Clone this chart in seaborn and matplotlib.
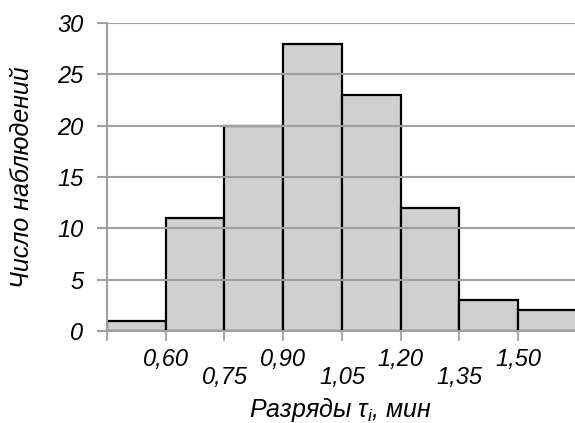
import matplotlib
matplotlib.use("Agg")
import matplotlib.pyplot as plt
import seaborn as sns
import numpy as np

edges = [0.45, 0.60, 0.75, 0.90, 1.05, 1.20, 1.35, 1.50, 1.65]
counts = [1, 11, 20, 28, 23, 12, 3, 2]
upper_ticks = [0.60, 0.90, 1.20, 1.50]
upper_labels = ["0,60", "0,90", "1,20", "1,50"]
lower_ticks = [0.45, 0.75, 1.05, 1.35]
lower_labels = ["", "0,75", "1,05", "1,35"]
yticks = [0, 5, 10, 15, 20, 25, 30]

sns.set_theme(style="white")
plt.rcParams["font.family"] = ["Liberation Sans", "DejaVu Sans"]
plt.rcParams["mathtext.fontset"] = "custom"
plt.rcParams["mathtext.rm"] = "Liberation Sans"
plt.rcParams["mathtext.it"] = "Liberation Sans:italic"
plt.rcParams["text.color"] = "black"
plt.rcParams["axes.labelcolor"] = "black"
plt.rcParams["xtick.labelcolor"] = "black"
plt.rcParams["ytick.labelcolor"] = "black"

centers = [(edges[i] + edges[i + 1]) / 2 for i in range(len(counts))]

fig = plt.figure(figsize=(5.75, 4.23), dpi=100)
ax = fig.add_axes([107 / 575, 1 - 331 / 423, 468 / 575, 308 / 423])

sns.histplot(x=centers, weights=counts, bins=edges, ax=ax, color="#d0d0d0",
             edgecolor="black", linewidth=1.6, alpha=1, zorder=2)

fs = 17
ax.set_xlim(0.45, 1.645)
ax.set_ylim(0, 30)
ax.set_yticks(yticks)
ax.set_yticklabels([str(v) for v in yticks], fontsize=fs, style="italic", color="black")
ax.yaxis.grid(True, color="#a0a0a0", linewidth=1.5, zorder=3)
ax.set_axisbelow(False)

ax.set_xticks(upper_ticks)
ax.set_xticklabels(upper_labels, fontsize=fs, style="italic", color="black")
ax.set_xticks(lower_ticks, minor=True)
ax.set_xticklabels(lower_labels, minor=True, fontsize=fs, style="italic", color="black")

ax.tick_params(axis="x", which="major", direction="out", length=7, width=1.3,
               color="#a0a0a0", pad=5, bottom=True)
ax.tick_params(axis="x", which="minor", direction="out", length=7, width=1.3,
               color="#a0a0a0", pad=18, bottom=True)
ax.tick_params(axis="y", direction="out", length=7, width=1.5,
               color="#a0a0a0", pad=10, left=True)

for s in ["top", "right"]:
    ax.spines[s].set_visible(False)
for s in ["left", "bottom"]:
    ax.spines[s].set_color("#a0a0a0")
    ax.spines[s].set_linewidth(1.5)
    ax.spines[s].set_zorder(4)

ax.set_ylabel("Число наблюдений", fontsize=18, style="italic", va="center", color="black")
ax.yaxis.set_label_coords(-0.182, 0.5)
ax.set_xlabel(r"Разряды τ$_{i}$, мин", fontsize=18, style="italic", va="center", color="black")
ax.xaxis.set_label_coords(0.498, -0.256)

fig.savefig("out.png", dpi=100)
